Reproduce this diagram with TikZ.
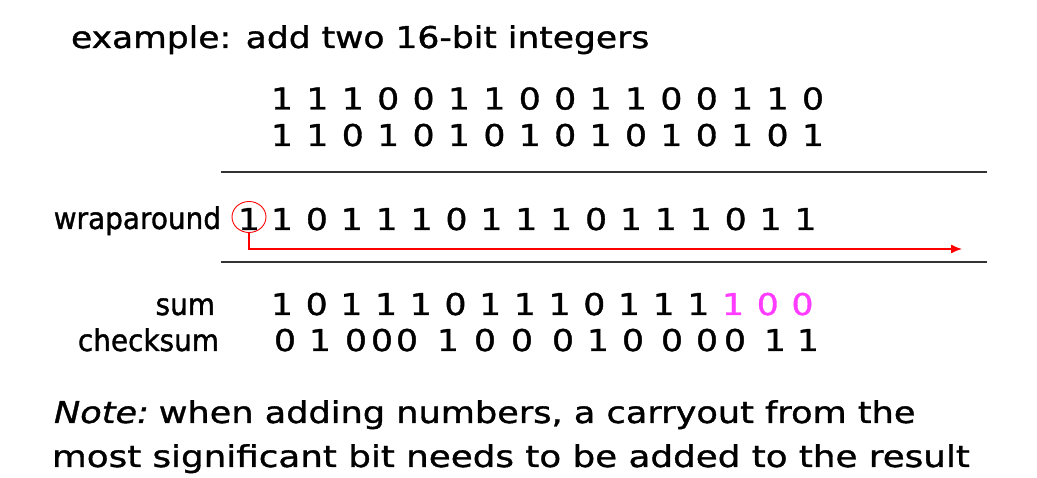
\documentclass[tikz,border=0pt]{standalone}
\usepackage{fontspec}
\setmainfont{DejaVu Sans}[FakeStretch=1.15,FakeBold=1.2]
\newfontfamily\labelfont{DejaVu Sans}[FakeStretch=0.93,FakeBold=1.2]
\newfontfamily\notefont{DejaVu Sans}[FakeStretch=1.19,FakeBold=1.2]
\newfontfamily\notefontA{DejaVu Sans}[FakeStretch=1.17,FakeBold=1.2]
\usetikzlibrary{positioning,arrows.meta,shapes.geometric}
\definecolor{sumpink}{RGB}{255,60,255}
\newcommand\bitrow[4]{% name, baseline, pitch, bits
  \foreach \b [count=\i] in {#4} {
    \node[bit] (#1-\i) at ({282+(\i-1)*#3},#2) {\b};
  }
}
\tikzset{%
  every node/.style={inner sep=0pt,outer sep=0pt,font=\fontsize{30}{36}\selectfont},
  bit/.style={anchor=base},
  rowlabel/.style={anchor=base east,font=\fontsize{30}{36}\labelfont},
  textline/.style={anchor=base west},
  rule/.style={line width=1.8pt,black!80},
  wrapline/.style={red,line width=1.3pt}
}

\begin{document}
\begin{tikzpicture}[x=1pt,y=-1pt]
	%% frame
	\useasboundingbox (0,0) rectangle (1037,478);
	
	\node[textline] (title) at (71,48) {example: add two 16-bit integers};
	
	%% the two integers
	\bitrow{a}{109.5}{35.4}{1,1,1,0,0,1,1,0,0,1,1,0,0,1,1,0}
	\bitrow{b}{146}{35.4}{1,1,0,1,0,1,0,1,0,1,0,1,0,1,0,1}
	\draw[rule] (221,172) -- (987,172);
	
	%% wraparound
	\node[rowlabel] (wraplabel) at (221,229) {wraparound};
	\node[bit] (carry) at (249,230) {1};
	\node[draw=red,line width=0.9pt,ellipse,minimum width=34pt,minimum height=31pt] (ring) at (249,217) {};
	\bitrow{w}{230}{34.9}{1,0,1,1,1,0,1,1,1,0,1,1,1,0,1,1}
	\coordinate (wrapend) at (962,249);
	\draw[wrapline,-{Latex[length=11pt,width=9pt]}] (ring.south) |- (wrapend);
	\draw[rule] (221,262) -- (987,262);
	
	%% sum and checksum
	\node[rowlabel] (sumlabel) at (215,315) {sum};
	\bitrow{s}{315}{34.7}{1,0,1,1,1,0,1,1,1,0,1,1,1,\textcolor{sumpink}{1},\textcolor{sumpink}{0},\textcolor{sumpink}{0}}
	\node[rowlabel] (checklabel) at (219,351) {checksum};
	\foreach \x/\b [count=\i] in {285/0,320/1,356/0,382/0,407/0,448/1,485/0,522/0,563/0,598/1,633/0,672/0,707/0,735/0,775/1,808/1}
	  \node[bit] (c-\i) at (\x,351) {\b};
	
	%% note
	\node[textline,font=\fontsize{30}{36}\notefontA] (note1) at (54,423) {\textit{Note:}\hspace{-5pt} when adding numbers, a carryout from the};
	\node[textline,font=\fontsize{30}{36}\notefont] (note2) at (52,467) {most significant bit needs to be added to the result};
\end{tikzpicture}
\end{document}
